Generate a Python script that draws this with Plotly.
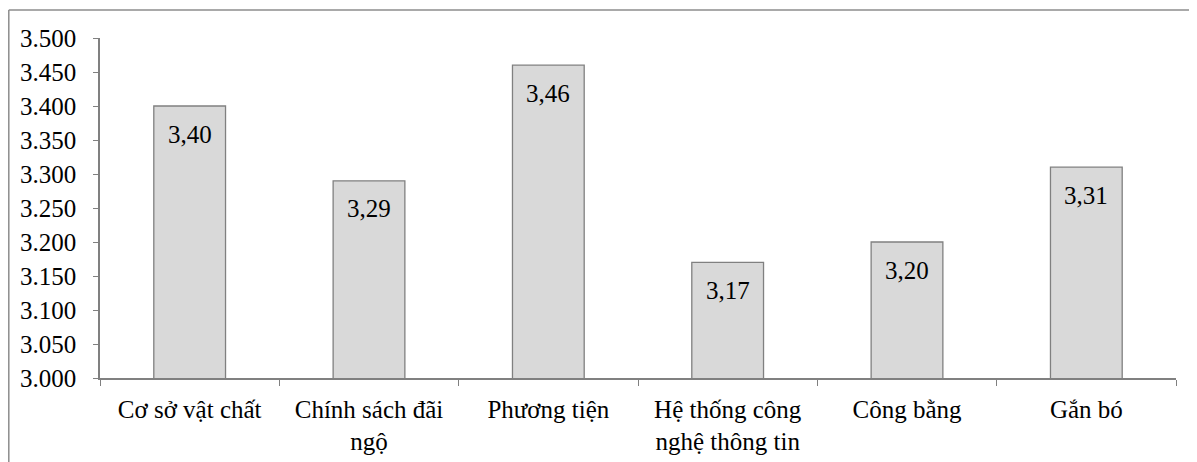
import plotly.graph_objects as go

categories = ["Cơ sở vật chất", "Chính sách đãi<br>ngộ", "Phương tiện",
              "Hệ thống công<br>nghệ thông tin", "Công bằng", "Gắn bó"]
values = [3.40, 3.29, 3.46, 3.17, 3.20, 3.31]
labels = ["3,40", "3,29", "3,46", "3,17", "3,20", "3,31"]
tick_vals = [3.000, 3.050, 3.100, 3.150, 3.200, 3.250, 3.300, 3.350, 3.400, 3.450, 3.500]
tick_text = ["3.000", "3.050", "3.100", "3.150", "3.200", "3.250", "3.300", "3.350", "3.400", "3.450", "3.500"]

FONT = "'Times New Roman', 'Liberation Serif', 'DejaVu Serif', serif"
FS = 25
OFF = 8  # page body margin
W, H = 1197 - OFF, 462 - OFF
L, R, T, B = 100 - OFF, 21, 38 - OFF, 84
pw, ph = W - L - R, H - T - B

fig = go.Figure()
fig.add_trace(go.Bar(
    x=categories, y=values,
    marker=dict(color="#d9d9d9", line=dict(color="#808080", width=1.3)),
    hoverinfo="x+y",
))

for c, v, t in zip(categories, values, labels):
    fig.add_annotation(x=c, y=v, text=t, showarrow=False, yanchor="middle",
                       yshift=-28, font=dict(family=FONT, size=FS, color="black"))

# outer chart border (left and top only visible)
bx = (0.8 - L) / pw
by = 1 + (T - 2) / ph
fig.add_shape(type="line", xref="paper", yref="paper",
              x0=bx, x1=(W + 5 - L) / pw, y0=by, y1=by,
              line=dict(color="#8c8c8c", width=1.5))
fig.add_shape(type="line", xref="paper", yref="paper",
              x0=bx, x1=bx, y0=by, y1=-(B + 5) / ph,
              line=dict(color="#8c8c8c", width=1.5))

fig.update_layout(
    width=W, height=H,
    margin=dict(l=L, r=R, t=T, b=B, autoexpand=False),
    paper_bgcolor="white", plot_bgcolor="white",
    bargap=0.6, showlegend=False,
    font=dict(family=FONT, size=FS, color="black"),
)
fig.update_xaxes(
    type="category", showline=True, linecolor="#808080", linewidth=1.5,
    ticks="outside", tickson="boundaries", ticklen=6, tickcolor="#808080",
    ticklabelstandoff=8, automargin=False,
    tickfont=dict(family=FONT, size=FS, color="black"),
    showgrid=False, zeroline=False,
)
fig.update_yaxes(
    range=[3.0, 3.5], tickvals=tick_vals, ticktext=tick_text,
    showline=True, linecolor="#808080", linewidth=1.5,
    ticks="outside", ticklen=5, tickcolor="#808080",
    ticklabelstandoff=12, automargin=False,
    tickfont=dict(family=FONT, size=FS, color="black"),
    showgrid=False, zeroline=False,
)

fig.write_html("out.html")
